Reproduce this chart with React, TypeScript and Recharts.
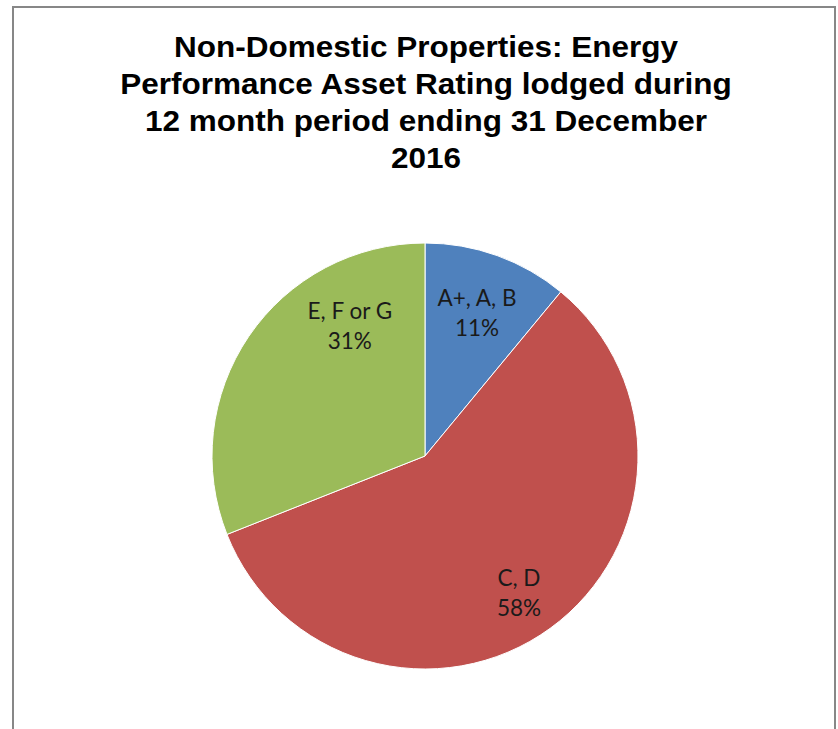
import React from "react";
import { PieChart, Pie, Cell } from "recharts";

const categories = ["A+, A, B", "C, D", "E, F or G"];
const shares = [11, 58, 31];
const sliceColors = ["#4F81BD", "#C0504D", "#9BBB59"];
const titleLines = [
  "Non-Domestic Properties: Energy",
  "Performance Asset Rating lodged during",
  "12 month period ending 31 December",
  "2016",
];

// Excel "best fit" places labels a bit off the slice middle
const labelPlacement = [
  { radius: 0.72, turn: 0 },
  { radius: 0.775, turn: -1.3 },
  { radius: 0.71, turn: -26 },
];

const chartData = categories.map((name, i) => ({ name, value: shares[i] }));

const RAD = Math.PI / 180;

function renderLabel(props: any) {
  const { cx, cy, midAngle, outerRadius, index, name, percent } = props;
  const place = labelPlacement[index];
  const angle = (midAngle + place.turn) * RAD;
  const r = outerRadius * place.radius;
  const x = cx + r * Math.cos(angle);
  const y = cy - r * Math.sin(angle);
  return (
    <text
      x={x}
      y={y}
      textAnchor="middle"
      fill="#1a1a1a"
      style={{ fontFamily: "Lato, sans-serif", fontSize: 22.5 }}
    >
      <tspan x={x} dy={-6}>{name}</tspan>
      <tspan x={x} dy={30}>{`${Math.round(percent * 100)}%`}</tspan>
    </text>
  );
}

export default function App() {
  return (
    <div style={{ position: "absolute", left: 0, top: 0, width: 838, height: 729, background: "#fff", overflow: "hidden" }}>
      <div
        style={{
          position: "absolute",
          left: 12,
          top: 6,
          width: 820,
          height: 760,
          border: "2px solid #878787",
        }}
      />
      <div
        style={{
          position: "absolute",
          left: 0,
          top: 28,
          width: 852,
          textAlign: "center",
          fontFamily: "'Liberation Sans', Arial, sans-serif",
          fontWeight: "bold",
          fontSize: 30,
          lineHeight: "37px",
          color: "#000",
          transform: "scaleX(1.05)",
          transformOrigin: "426px 0",
        }}
      >
        {titleLines.map((line) => (
          <div key={line}>{line}</div>
        ))}
      </div>
      <div style={{ position: "absolute", left: 0, top: 0 }}>
        <PieChart width={838} height={729} margin={{ top: 0, right: 0, bottom: 0, left: 0 }}>
          <Pie
            data={chartData}
            dataKey="value"
            nameKey="name"
            cx={425}
            cy={456}
            outerRadius={213}
            startAngle={90}
            endAngle={-270}
            stroke="#ffffff"
            strokeWidth={1}
            label={renderLabel}
            labelLine={false}
            isAnimationActive={false}
          >
            {chartData.map((entry, i) => (
              <Cell key={entry.name} fill={sliceColors[i]} />
            ))}
          </Pie>
        </PieChart>
      </div>
    </div>
  );
}
